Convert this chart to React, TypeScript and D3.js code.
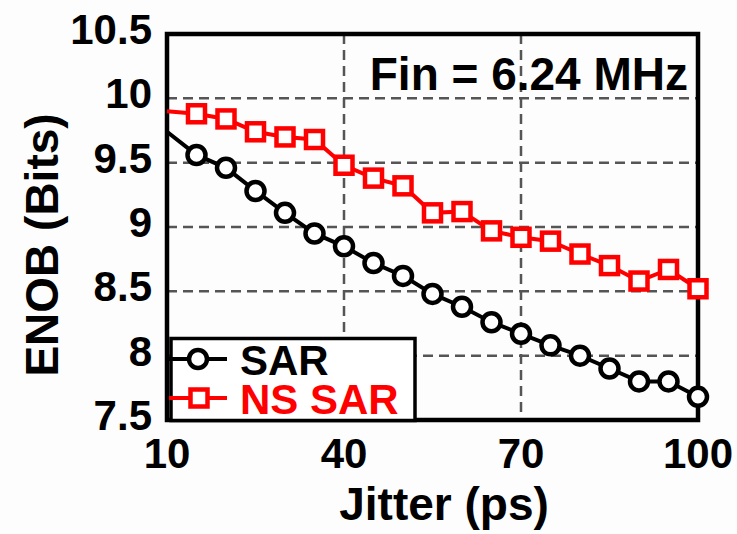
import React, { useRef, useEffect } from 'react';
import * as d3 from 'd3';

// Jitter values (ps)
const jitter = [10, 15, 20, 25, 30, 35, 40, 45, 50, 55, 60, 65, 70, 75, 80, 85, 90, 95, 100];
// ENOB
const sarEnob = [9.74, 9.56, 9.46, 9.28, 9.11, 8.95, 8.85, 8.72, 8.62, 8.48, 8.38, 8.26, 8.17, 8.08, 8.0, 7.9, 7.8, 7.8, 7.68];
const nsSarEnob = [9.9, 9.88, 9.84, 9.74, 9.7, 9.68, 9.48, 9.38, 9.32, 9.11, 9.12, 8.97, 8.92, 8.89, 8.79, 8.7, 8.58, 8.67, 8.52];

const xTicks = [10, 40, 70, 100];
const yTicks = [7.5, 8, 8.5, 9, 9.5, 10, 10.5];
const seriesNames = ['SAR', 'NS SAR'];

const FONT = '"Liberation Sans", Arial, sans-serif';

const App = () => {
  const svgRef = useRef<SVGSVGElement>(null);

  useEffect(() => {
    if (!svgRef.current) return;
    const width = 737;
    const height = 534;
    const margin = { top: 34, right: 39, bottom: 114, left: 167 };

    const root = d3.select(svgRef.current);
    root.selectAll('*').remove();
    root.attr('width', width).attr('height', height);

    root.append('rect').attr('width', width).attr('height', height).attr('fill', '#fdfdfd');

    const innerWidth = width - margin.left - margin.right;
    const innerHeight = height - margin.top - margin.bottom;

    const x = d3.scaleLinear().domain([10, 100]).range([0, innerWidth]);
    const y = d3.scaleLinear().domain([7.5, 10.5]).range([innerHeight, 0]);

    const svg = root.append('g').attr('transform', `translate(${margin.left},${margin.top})`);

    // grid lines
    svg.append('g')
      .selectAll('line.hg')
      .data(yTicks.filter(t => t > 7.5 && t < 10.5))
      .enter()
      .append('line')
      .attr('x1', 0)
      .attr('x2', innerWidth)
      .attr('y1', d => y(d))
      .attr('y2', d => y(d))
      .attr('stroke', '#555')
      .attr('stroke-width', 2.5)
      .attr('stroke-dasharray', '10,6');

    svg.append('g')
      .selectAll('line.vg')
      .data(xTicks.filter(t => t > 10 && t < 100))
      .enter()
      .append('line')
      .attr('x1', d => x(d))
      .attr('x2', d => x(d))
      .attr('y1', 0)
      .attr('y2', innerHeight)
      .attr('stroke', '#555')
      .attr('stroke-width', 2.5)
      .attr('stroke-dasharray', '10,6');

    // frame
    svg.append('rect')
      .attr('width', innerWidth)
      .attr('height', innerHeight)
      .attr('fill', 'none')
      .attr('stroke', '#000')
      .attr('stroke-width', 4.5);

    // tick labels
    svg.append('g')
      .selectAll('text')
      .data(yTicks)
      .enter()
      .append('text')
      .attr('x', -15)
      .attr('y', d => y(d) - 5)
      .attr('dy', '0.36em')
      .attr('text-anchor', 'end')
      .attr('font-family', FONT)
      .attr('font-weight', 'bold')
      .attr('font-size', 42)
      .text(d => String(d));

    svg.append('g')
      .selectAll('text')
      .data(xTicks)
      .enter()
      .append('text')
      .attr('x', d => x(d))
      .attr('y', innerHeight + 48)
      .attr('text-anchor', 'middle')
      .attr('font-family', FONT)
      .attr('font-weight', 'bold')
      .attr('font-size', 42)
      .text(d => String(d));

    // axis titles
    svg.append('text')
      .attr('x', 444 - margin.left)
      .attr('y', 520 - margin.top)
      .attr('text-anchor', 'middle')
      .attr('font-family', FONT)
      .attr('font-weight', 'bold')
      .attr('font-size', 46)
      .text('Jitter (ps)');

    root.append('text')
      .attr('transform', `translate(58,245) rotate(-90)`)
      .attr('text-anchor', 'middle')
      .attr('font-family', FONT)
      .attr('font-weight', 'bold')
      .attr('font-size', 46)
      .text('ENOB (Bits)');

    root.append('text')
      .attr('x', 688)
      .attr('y', 90)
      .attr('text-anchor', 'end')
      .attr('font-family', FONT)
      .attr('font-weight', 'bold')
      .attr('font-size', 46)
      .text('Fin = 6.24 MHz');

    const line = d3.line<number>()
      .x((d, i) => x(jitter[i]))
      .y(d => y(d));

    // SAR
    svg.append('path')
      .datum(sarEnob)
      .attr('fill', 'none')
      .attr('stroke', '#000')
      .attr('stroke-width', 4)
      .attr('d', line);

    svg.selectAll('.sar-dot')
      .data(sarEnob.slice(1))
      .enter()
      .append('circle')
      .attr('class', 'sar-dot')
      .attr('cx', (d, i) => x(jitter[i + 1]))
      .attr('cy', d => y(d))
      .attr('r', 9)
      .attr('fill', '#fff')
      .attr('stroke', '#000')
      .attr('stroke-width', 4.5);

    // NS SAR
    svg.append('path')
      .datum(nsSarEnob)
      .attr('fill', 'none')
      .attr('stroke', '#ff0000')
      .attr('stroke-width', 4)
      .attr('d', line);

    const sq = 17;
    svg.selectAll('.ns-dot')
      .data(nsSarEnob.slice(1))
      .enter()
      .append('rect')
      .attr('class', 'ns-dot')
      .attr('x', (d, i) => x(jitter[i + 1]) - sq / 2)
      .attr('y', d => y(d) - sq / 2)
      .attr('width', sq)
      .attr('height', sq)
      .attr('fill', '#fff')
      .attr('stroke', '#ff0000')
      .attr('stroke-width', 4.5);

    // legend
    const lg = root.append('g');
    lg.append('rect')
      .attr('x', 171)
      .attr('y', 338.5)
      .attr('width', 244)
      .attr('height', 82)
      .attr('fill', '#fff')
      .attr('stroke', '#000')
      .attr('stroke-width', 3.5);

    const legendRows = [
      { name: seriesNames[0], color: '#000', y: 359, shape: 'circle' },
      { name: seriesNames[1], color: '#ff0000', y: 398, shape: 'square' },
    ];

    legendRows.forEach(r => {
      lg.append('line')
        .attr('x1', 169)
        .attr('x2', 227)
        .attr('y1', r.y)
        .attr('y2', r.y)
        .attr('stroke', r.color)
        .attr('stroke-width', 4);
      if (r.shape === 'circle') {
        lg.append('circle')
          .attr('cx', 198)
          .attr('cy', r.y)
          .attr('r', 9)
          .attr('fill', '#fff')
          .attr('stroke', r.color)
          .attr('stroke-width', 4.5);
      } else {
        lg.append('rect')
          .attr('x', 199 - sq / 2)
          .attr('y', r.y - sq / 2)
          .attr('width', sq)
          .attr('height', sq)
          .attr('fill', '#fff')
          .attr('stroke', r.color)
          .attr('stroke-width', 4.5);
      }
      lg.append('text')
        .attr('x', 240)
        .attr('y', r.y + 16)
        .attr('font-family', FONT)
        .attr('font-weight', 'bold')
        .attr('font-size', 42)
        .attr('fill', r.color)
        .text(r.name);
    });
  }, []);

  return (
    <div style={{ position: 'absolute', left: 0, top: 0 }}>
      <svg ref={svgRef} style={{ display: 'block' }}></svg>
    </div>
  );
};

export default App;
